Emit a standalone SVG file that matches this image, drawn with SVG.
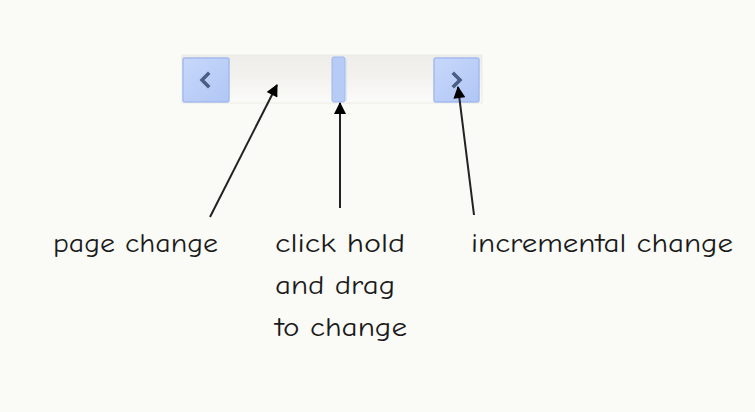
<svg xmlns="http://www.w3.org/2000/svg" width="755" height="412" viewBox="0 0 755 412">
<defs>
<linearGradient id="trk" x1="0" y1="0" x2="0" y2="1">
<stop offset="0" stop-color="#eeede9"/><stop offset="0.5" stop-color="#f3f2ef"/><stop offset="1" stop-color="#fbfbf9"/>
</linearGradient>
<linearGradient id="btn" x1="0" y1="0" x2="1" y2="1">
<stop offset="0" stop-color="#c8d8fb"/><stop offset="1" stop-color="#b0c6f5"/>
</linearGradient>
<marker id="ah" viewBox="0 0 12 12" refX="11" refY="6" markerWidth="14" markerHeight="12" orient="auto" markerUnits="userSpaceOnUse">
<path d="M0,0 L12,6 L0,12 z" fill="#000"/>
</marker>
<style>
.lbl{font-family:"Comic Neue","DejaVu Sans","Liberation Sans",sans-serif;font-size:26px;fill:#1a1a1a}
.btn{fill:url(#btn);stroke:#a4bbee;stroke-width:1.5}
.chev{fill:none;stroke:#4a5e85;stroke-width:3.5;stroke-linecap:square}
.con{stroke:#222;stroke-width:2;fill:none;marker-end:url(#ah)}
</style>
</defs>
<rect width="755" height="412" fill="#fafaf7"/>
<g id="scrollbar">
<rect x="182" y="55" width="300" height="48" fill="url(#trk)" stroke="#ecebe6" stroke-width="1"/>
<g id="btn-left">
<rect class="btn" x="183" y="58" width="46" height="44" rx="2"/>
<path class="chev" d="M208,74 L202,80 L208,86"/>
</g>
<g id="thumb">
<rect x="332" y="57" width="13" height="45" rx="2" fill="#b7cbf7" stroke="#9fb6ec" stroke-width="1"/>
<line x1="346" y1="59" x2="346" y2="101" stroke="#c9d6f5" stroke-width="1"/>
</g>
<g id="btn-right">
<rect class="btn" x="434" y="58" width="45" height="44" rx="2"/>
<path class="chev" d="M454,74 L460,80 L454,86"/>
</g>
</g>
<g id="connectors">
<line class="con" x1="210" y1="217" x2="277" y2="85"/>
<line class="con" x1="340" y1="208" x2="340" y2="103"/>
<line class="con" x1="474" y1="215" x2="458" y2="87"/>
</g>
<g id="label-page">
<text class="lbl" x="53" y="252" textLength="165" lengthAdjust="spacingAndGlyphs">page change</text>
</g>
<g id="label-drag">
<text class="lbl" x="275" y="252" textLength="130" lengthAdjust="spacingAndGlyphs">click hold</text>
<text class="lbl" x="275" y="294" textLength="120" lengthAdjust="spacingAndGlyphs">and drag</text>
<text class="lbl" x="275" y="336" textLength="132" lengthAdjust="spacingAndGlyphs">to change</text>
</g>
<g id="label-inc">
<text class="lbl" x="471" y="252" textLength="262" lengthAdjust="spacingAndGlyphs">incremental change</text>
</g>
</svg>
